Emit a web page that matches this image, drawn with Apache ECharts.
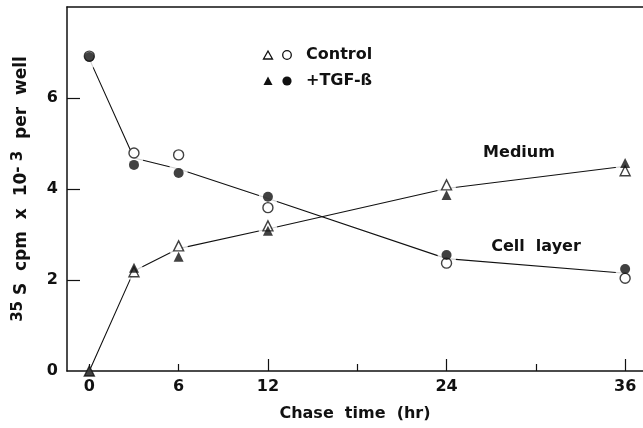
<!DOCTYPE html>
<html lang="en">
<head>
    <meta charset="UTF-8">
    <title>Chase time</title>
    <script src="https://cdn.jsdelivr.net/npm/echarts@6.0.0/dist/echarts.min.js"></script>
    <style>
        html, body {
            margin: 0;
            padding: 0;
            background: #fff;
        }

        #main {
            width: 643px;
            height: 428px;
        }
    </style>
</head>
<body>
<div id="main"></div>
<script>
    // chase time points (hr)
    var hours = [0, 3, 6, 12, 24, 36];

    // cell layer (circles)
    var cellControl = [6.92, 4.79, 4.75, 3.59, 2.37, 2.04];
    var cellTGF = [6.90, 4.53, 4.35, 3.83, 2.55, 2.24];
    // medium (triangles)
    var mediumControl = [0, 2.18, 2.75, 3.19, 4.09, 4.40];
    var mediumTGF = [0, 2.27, 2.51, 3.08, 3.87, 4.57];

    // drawn connecting lines
    var cellLine = [6.86, 4.68, 4.44, 3.79, 2.47, 2.15];
    var mediumLine = [0, 2.20, 2.69, 3.12, 4.01, 4.50];

    var xLabelTicks = [0, 6, 12, 24, 36];
    var xLongTicks = [12, 24, 36];
    var xShortTicks = [0, 6, 18, 30];
    var yLabelTicks = [0, 2, 4, 6];
    var yTicks = [2, 4, 6];

    var FONT = '"DejaVu Sans", Verdana, sans-serif';
    var INK = '#111';

    function pairs(ys) {
        return hours.map(function (h, i) {
            return [h, ys[i]];
        });
    }

    var myChart = echarts.init(document.getElementById('main'));

    var markerBase = {
        type: 'scatter',
        z: 5,
        symbolSize: 10
    };

    var option = {
        animation: false,
        grid: {left: 67, right: 0, top: 7, bottom: 57},
        xAxis: [
            {
                type: 'value', min: -1.5, max: 37.2,
                position: 'bottom',
                name: 'Chase  time  (hr)',
                nameLocation: 'middle',
                nameGap: 35,
                nameTextStyle: {fontFamily: FONT, fontWeight: 'bold', fontSize: 16, color: INK},
                axisLine: {onZero: false, lineStyle: {color: INK, width: 1.5}},
                axisTick: {inside: true, length: 12, customValues: xLongTicks, lineStyle: {color: INK, width: 1.2}},
                axisLabel: {customValues: xLabelTicks, fontFamily: FONT, fontWeight: 'bold', fontSize: 16, color: INK, margin: 8},
                splitLine: {show: false}
            },
            {
                type: 'value', min: -1.5, max: 37.2,
                position: 'bottom',
                axisLine: {show: false, onZero: false},
                axisTick: {inside: true, length: 7, customValues: xShortTicks, lineStyle: {color: INK, width: 1.2}},
                axisLabel: {show: false},
                splitLine: {show: false}
            },
            {
                type: 'value', min: -1.5, max: 37.2,
                position: 'top',
                axisLine: {onZero: false, lineStyle: {color: INK, width: 1.5}},
                axisTick: {show: false},
                axisLabel: {show: false},
                splitLine: {show: false}
            }
        ],
        yAxis: {
            type: 'value', min: 0, max: 8,
            name: '{sup|35} S  cpm  x  10{sup|- 3}  per  well',
            nameLocation: 'middle',
            nameRotate: 90,
            nameGap: 35,
            nameTextStyle: {
                fontFamily: FONT, fontWeight: 'bold', fontSize: 17, color: INK,
                rich: {
                    sup: {fontFamily: FONT, fontWeight: 'bold', fontSize: 15, color: INK, verticalAlign: 'top', padding: [0, 0, 6, 0]}
                }
            },
            axisLine: {onZero: false, lineStyle: {color: INK, width: 1.5}},
            axisTick: {inside: true, length: 13, customValues: yTicks, lineStyle: {color: INK, width: 1.2}},
            axisLabel: {customValues: yLabelTicks, fontFamily: FONT, fontWeight: 'bold', fontSize: 16, color: INK, margin: 9},
            splitLine: {show: false}
        },
        series: [
            {
                name: 'Cell layer line', type: 'line', z: 2,
                data: pairs(cellLine), symbol: 'none',
                lineStyle: {color: INK, width: 1.1}
            },
            {
                name: 'Medium line', type: 'line', z: 2,
                data: pairs(mediumLine), symbol: 'none',
                lineStyle: {color: INK, width: 1.1}
            },
            {
                name: 'gap', type: 'scatter', z: 3, silent: true,
                data: pairs(cellLine).concat(pairs(mediumLine)),
                symbol: 'circle',
                symbolSize: function (v) { return v[1] === 0 ? 0 : 19; },
                itemStyle: {color: '#fff'}
            },
            echarts.util.merge({
                name: 'Control medium', data: pairs(mediumControl), symbol: 'triangle',
                itemStyle: {color: '#fff', borderColor: INK, borderWidth: 1.4}
            }, markerBase),
            echarts.util.merge({
                name: 'TGF medium', data: pairs(mediumTGF), symbol: 'triangle',
                itemStyle: {color: INK}
            }, markerBase),
            echarts.util.merge({
                name: 'Control cell', data: pairs(cellControl), symbol: 'circle',
                itemStyle: {color: '#fff', borderColor: INK, borderWidth: 1.4}
            }, markerBase),
            echarts.util.merge({
                name: 'TGF cell', data: pairs(cellTGF), symbol: 'circle',
                itemStyle: {color: INK}
            }, markerBase)
        ],
        graphic: [
            // legend
            {type: 'polygon', shape: {points: [[268, 51], [272.5, 59], [263.5, 59]]}, style: {fill: '#fff', stroke: INK, lineWidth: 1.3}},
            {type: 'circle', shape: {cx: 287, cy: 55, r: 4.3}, style: {fill: '#fff', stroke: INK, lineWidth: 1.3}},
            {type: 'text', x: 306, y: 55, style: {text: 'Control', fill: INK, font: 'bold 16px ' + FONT, verticalAlign: 'middle'}},
            {type: 'polygon', shape: {points: [[268, 76.5], [272.5, 85], [263.5, 85]]}, style: {fill: INK}},
            {type: 'circle', shape: {cx: 287, cy: 81, r: 4.6}, style: {fill: INK}},
            {type: 'text', x: 306, y: 81, style: {text: '+TGF-ß', fill: INK, font: 'bold 16px ' + FONT, verticalAlign: 'middle'}},
            // curve labels
            {type: 'text', x: 519, y: 153, style: {text: 'Medium', fill: INK, font: 'bold 16px ' + FONT, align: 'center', verticalAlign: 'middle'}},
            {type: 'text', x: 536, y: 247, style: {text: 'Cell  layer', fill: INK, font: 'bold 16px ' + FONT, align: 'center', verticalAlign: 'middle'}}
        ]
    };

    myChart.setOption(option);
</script>
</body>
</html>
